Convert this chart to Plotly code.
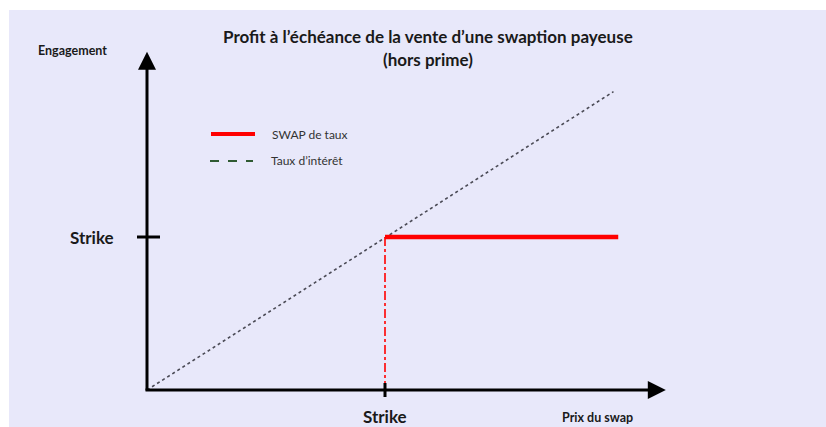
import plotly.graph_objects as go

# ---- data (abstract units: strike = 1 on both axes) ----
strike = 1.0
rate_x = [0.0, 1.96]          # "Taux d'intérêt" diagonal
rate_y = [0.0, 1.95]
swap_x = [1.0, 1.98]          # "SWAP de taux" flat profit
swap_y = [1.0, 1.0]
strike_drop_x = [1.0, 1.0]    # vertical dash-dot at strike
strike_drop_y = [0.0, 1.0]
x_axis_end = 2.18
y_axis_end = 2.21

title_lines = ["Profit à l’échéance de la vente d’une swaption payeuse", "(hors prime)"]
legend_labels = ["SWAP de taux", "Taux d’intérêt"]
x_axis_label = "Prix du swap"
y_axis_label = "Engagement"
strike_label = "Strike"

W, H = 826, 427
BG = "#E8E8FA"
FONT = "Lato"

# pixel helpers for layout geometry
X0_PX, Y0_PX, UX, UY = 147, 390, 238.0, 153.0
left_px, top_px = 9, 10
xr = [-(X0_PX - left_px) / UX, -(X0_PX - left_px) / UX + (W - left_px) / UX]
yr = [-(H - Y0_PX) / UY, (Y0_PX - top_px) / UY]

def dx(px):
    return (px - X0_PX) / UX

def dy(py):
    return (Y0_PX - py) / UY

fig = go.Figure()

fig.add_trace(go.Scatter(x=rate_x, y=rate_y, mode="lines",
                         line=dict(color="#4a4a55", width=1.6, dash="dot"),
                         hoverinfo="skip", showlegend=False))
fig.add_trace(go.Scatter(x=strike_drop_x, y=strike_drop_y, mode="lines",
                         line=dict(color="#FF0000", width=1.6, dash="dashdot"),
                         hoverinfo="skip", showlegend=False))
fig.add_trace(go.Scatter(x=swap_x, y=swap_y, mode="lines",
                         line=dict(color="#FF0000", width=4.5),
                         hoverinfo="skip", showlegend=False))

shapes = []
annotations = []

# axes with arrows
annotations.append(dict(x=x_axis_end, y=0, ax=dx(144), ay=0, xref="x", yref="y",
                        axref="x", ayref="y", text="", showarrow=True,
                        arrowhead=2, arrowsize=1.2, arrowwidth=3, arrowcolor="black"))
annotations.append(dict(x=0, y=y_axis_end, ax=0, ay=dy(392), xref="x", yref="y",
                        axref="x", ayref="y", text="", showarrow=True,
                        arrowhead=2, arrowsize=1.2, arrowwidth=3, arrowcolor="black"))

# strike ticks
shapes.append(dict(type="line", xref="x", yref="y", x0=dx(137), x1=dx(160),
                   y0=strike, y1=strike, line=dict(color="black", width=3)))
shapes.append(dict(type="line", xref="x", yref="y", x0=strike, x1=strike,
                   y0=dy(383), y1=dy(397), line=dict(color="black", width=3)))

TXT = "#1a1a1a"
# axis texts
annotations.append(dict(x=dx(92), y=strike, xref="x", yref="y", text="<b>" + strike_label + "</b>",
                        xanchor="center", yanchor="middle",
                        showarrow=False, font=dict(family=FONT, size=17, color=TXT)))
annotations.append(dict(x=strike, y=dy(416), xref="x", yref="y", text="<b>" + strike_label + "</b>",
                        xanchor="center", yanchor="middle",
                        showarrow=False, font=dict(family=FONT, size=17, color=TXT)))
annotations.append(dict(x=dx(72), y=dy(50), xref="x", yref="y", text="<b>" + y_axis_label + "</b>",
                        xanchor="center", yanchor="middle",
                        showarrow=False, font=dict(family=FONT, size=12.5, color=TXT)))
annotations.append(dict(x=dx(597), y=dy(417), xref="x", yref="y", text="<b>" + x_axis_label + "</b>",
                        xanchor="center", yanchor="middle",
                        showarrow=False, font=dict(family=FONT, size=12.5, color=TXT)))

# title
for i, line in enumerate(title_lines):
    annotations.append(dict(x=428 / W, y=1 - (37 + 23 * i) / H, xref="paper", yref="paper",
                            xanchor="center", yanchor="middle",
                            text="<b>" + line + "</b>", showarrow=False,
                            font=dict(family=FONT, size=17, color=TXT)))

# custom legend
shapes.append(dict(type="line", xref="paper", yref="paper", x0=211 / W, x1=255 / W,
                   y0=1 - 134 / H, y1=1 - 134 / H, line=dict(color="#FF0000", width=4)))
shapes.append(dict(type="line", xref="paper", yref="paper", x0=210 / W, x1=253 / W,
                   y0=1 - 161 / H, y1=1 - 161 / H, line=dict(color="#2f5a32", width=2, dash="dash")))
annotations.append(dict(x=270 / W, y=1 - 134 / H, xref="paper", yref="paper",
                        xanchor="left", yanchor="middle",
                        text=legend_labels[0], showarrow=False,
                        font=dict(family=FONT, size=12, color="#333333")))
annotations.append(dict(x=269 / W, y=1 - 160 / H, xref="paper", yref="paper",
                        xanchor="left", yanchor="middle",
                        text=legend_labels[1], showarrow=False,
                        font=dict(family=FONT, size=12, color="#333333")))

fig.update_layout(
    width=W, height=H,
    margin=dict(l=0, r=0, t=0, b=0),
    paper_bgcolor="white",
    plot_bgcolor=BG,
    showlegend=False,
    xaxis=dict(domain=[left_px / W, 1], range=xr, visible=False, fixedrange=True),
    yaxis=dict(domain=[0, 1 - top_px / H], range=yr, visible=False, fixedrange=True),
    shapes=shapes,
    annotations=annotations,
)

fig.write_html("out.html", config={"displayModeBar": False},
               post_script="document.body.style.margin='0';document.body.style.overflow='hidden';")
